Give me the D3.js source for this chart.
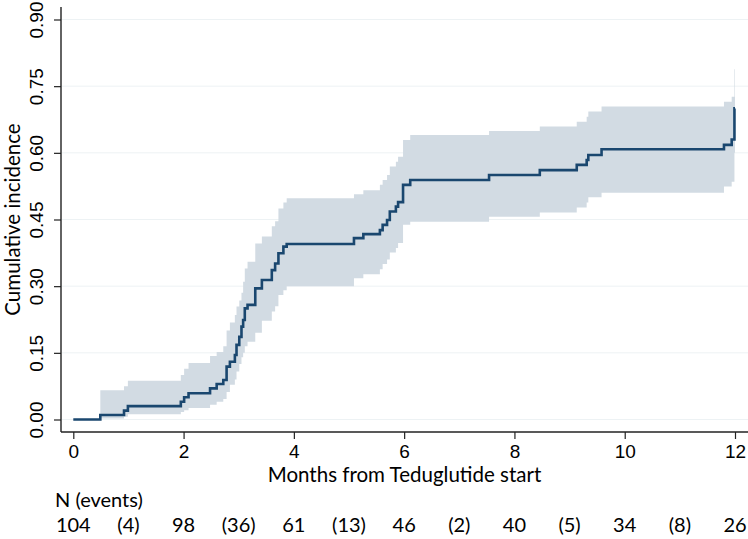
<!DOCTYPE html>
<html>
<head>
<meta charset="utf-8">
<script src="https://cdn.jsdelivr.net/npm/d3@7"></script>
<style>
  body { margin: 0; background: #fff; }
  svg { display: block; font-family: Lato, "Open Sans", sans-serif; }
</style>
</head>
<body>
<div id="chart"></div>
<script>
// cumulative incidence steps (months, estimate, lower CI, upper CI)
const times = [0, 0.49, 0.92, 0.99, 1.95, 2.01, 2.09, 2.48, 2.60, 2.72, 2.78, 2.84, 2.93, 2.96, 3.01, 3.05, 3.08, 3.11, 3.16, 3.30, 3.42, 3.60, 3.66, 3.72, 3.81, 3.87,
  5.09, 5.26, 5.56, 5.61, 5.69, 5.74, 5.85, 5.89, 5.98, 6.11, 7.54, 8.46, 9.13, 9.31, 9.34, 9.58, 11.80, 11.94, 11.99, 12.0];
const estimate = [0, 0.010, 0.020, 0.030, 0.040, 0.050, 0.059, 0.070, 0.080, 0.089, 0.119, 0.130, 0.145, 0.168, 0.186, 0.209, 0.224, 0.250, 0.258, 0.295, 0.314, 0.336, 0.351, 0.374, 0.389, 0.395,
  0.408, 0.417, 0.426, 0.438, 0.449, 0.468, 0.479, 0.489, 0.528, 0.539, 0.550, 0.561, 0.573, 0.584, 0.595, 0.608, 0.618, 0.630, 0.700, 0.700];
const lower = [0, 0.002, 0.006, 0.012, 0.017, 0.021, 0.026, 0.033, 0.040, 0.046, 0.062, 0.078, 0.090, 0.108, 0.125, 0.140, 0.150, 0.165, 0.175, 0.195, 0.222, 0.243, 0.255, 0.280, 0.291, 0.300,
  0.318, 0.327, 0.338, 0.350, 0.360, 0.376, 0.386, 0.397, 0.438, 0.445, 0.456, 0.466, 0.477, 0.488, 0.500, 0.510, 0.524, 0.535, 0.600, 0.600];
const upper = [0, 0.066, 0.075, 0.087, 0.100, 0.114, 0.127, 0.143, 0.152, 0.165, 0.200, 0.218, 0.235, 0.254, 0.268, 0.285, 0.310, 0.340, 0.355, 0.396, 0.412, 0.435, 0.446, 0.475, 0.488, 0.498,
  0.507, 0.516, 0.528, 0.539, 0.550, 0.569, 0.580, 0.591, 0.629, 0.640, 0.649, 0.659, 0.670, 0.681, 0.693, 0.704, 0.715, 0.726, 0.788, 0.788];

const xTicks = [0, 2, 4, 6, 8, 10, 12];
const yTicks = [0, 0.15, 0.30, 0.45, 0.60, 0.75, 0.90];

// risk table
const atRiskMonths = [0, 2, 4, 6, 8, 10, 12];
const atRisk = [104, 98, 61, 46, 40, 34, 26];
const eventMonths = [1, 3, 5, 7, 9, 11];
const events = [4, 36, 13, 2, 5, 8];

const W = 748, H = 539;
const plot = {left: 61, right: 748, top: 7, bottom: 432};
const navy = '#1a476f';

const svg = d3.select('#chart').append('svg')
    .attr('width', W)
    .attr('height', H)
    .attr('viewBox', `0 0 ${W} ${H}`);

const x = d3.scaleLinear().domain([0, 12]).range([73.3, 735]);
const y = d3.scaleLinear().domain([0, 0.9]).range([419.5, 19.5]);

const data = times.map((t, i) => ({t, v: estimate[i], lo: lower[i], hi: upper[i]}));

// gridlines
svg.append('g')
  .selectAll('line')
  .data(yTicks)
  .join('line')
    .attr('x1', plot.left + 1)
    .attr('x2', plot.right)
    .attr('y1', d => y(d))
    .attr('y2', d => y(d))
    .attr('stroke', '#edf2f4')
    .attr('stroke-width', 1);

// confidence band
const area = d3.area()
    .curve(d3.curveStepAfter)
    .x(d => x(d.t))
    .y0(d => y(d.lo))
    .y1(d => y(d.hi));

svg.append('path')
    .datum(data)
    .attr('d', area)
    .attr('fill', '#d2dbe3');

// estimate
const line = d3.line()
    .curve(d3.curveStepAfter)
    .x(d => x(d.t))
    .y(d => y(d.v));

svg.append('path')
    .datum(data)
    .attr('d', line)
    .attr('fill', 'none')
    .attr('stroke', navy)
    .attr('stroke-width', 2.6);

// axes
const yAxis = svg.append('g')
    .attr('transform', `translate(${plot.left},0)`)
    .call(d3.axisLeft(y).tickValues(yTicks).tickSize(7).tickSizeOuter(0).tickFormat(d3.format('.2f')));
yAxis.select('.domain').remove();
yAxis.selectAll('.tick line').attr('stroke', '#222').attr('stroke-width', 1.2);
yAxis.selectAll('.tick text')
    .attr('x', null)
    .attr('dy', null)
    .attr('transform', 'translate(-18,0) rotate(-90)')
    .attr('text-anchor', 'middle')
    .attr('fill', '#000')
    .style('font-size', '19px');

const xAxis = svg.append('g')
    .attr('transform', `translate(0,${plot.bottom})`)
    .call(d3.axisBottom(x).tickValues(xTicks).tickSize(7).tickSizeOuter(0));
xAxis.select('.domain').remove();
xAxis.selectAll('.tick line').attr('stroke', '#222').attr('stroke-width', 1.2);
xAxis.selectAll('.tick text')
    .attr('y', 26)
    .attr('dy', null)
    .attr('fill', '#000')
    .style('font-size', '19px');

// axis lines
svg.append('line')
    .attr('x1', plot.left).attr('x2', plot.left)
    .attr('y1', plot.top).attr('y2', plot.bottom)
    .attr('stroke', '#222').attr('stroke-width', 1.4);
svg.append('line')
    .attr('x1', plot.left).attr('x2', plot.right)
    .attr('y1', plot.bottom).attr('y2', plot.bottom)
    .attr('stroke', '#222').attr('stroke-width', 1.4);

// titles
svg.append('text')
    .attr('x', (plot.left + plot.right) / 2)
    .attr('y', 481.5)
    .attr('text-anchor', 'middle')
    .style('font-size', '20.5px')
    .text('Months from Teduglutide start');

svg.append('text')
    .attr('transform', `translate(19.5,${(plot.top + plot.bottom) / 2}) rotate(-90)`)
    .attr('text-anchor', 'middle')
    .style('font-size', '20.5px')
    .text('Cumulative incidence');

// number at risk table
svg.append('text')
    .attr('x', 55)
    .attr('y', 507)
    .style('font-size', '20px')
    .text('N (events)');

svg.append('g')
  .selectAll('text.risk')
  .data(atRisk)
  .join('text')
    .attr('class', 'risk')
    .attr('x', (d, i) => x(atRiskMonths[i]))
    .attr('y', 531.5)
    .attr('text-anchor', 'middle')
    .style('font-size', '20px')
    .text(d => d);

svg.append('g')
  .selectAll('text.ev')
  .data(events)
  .join('text')
    .attr('class', 'ev')
    .attr('x', (d, i) => x(eventMonths[i]))
    .attr('y', 531.5)
    .attr('text-anchor', 'middle')
    .style('font-size', '20px')
    .text(d => `(${d})`);
</script>
</body>
</html>
